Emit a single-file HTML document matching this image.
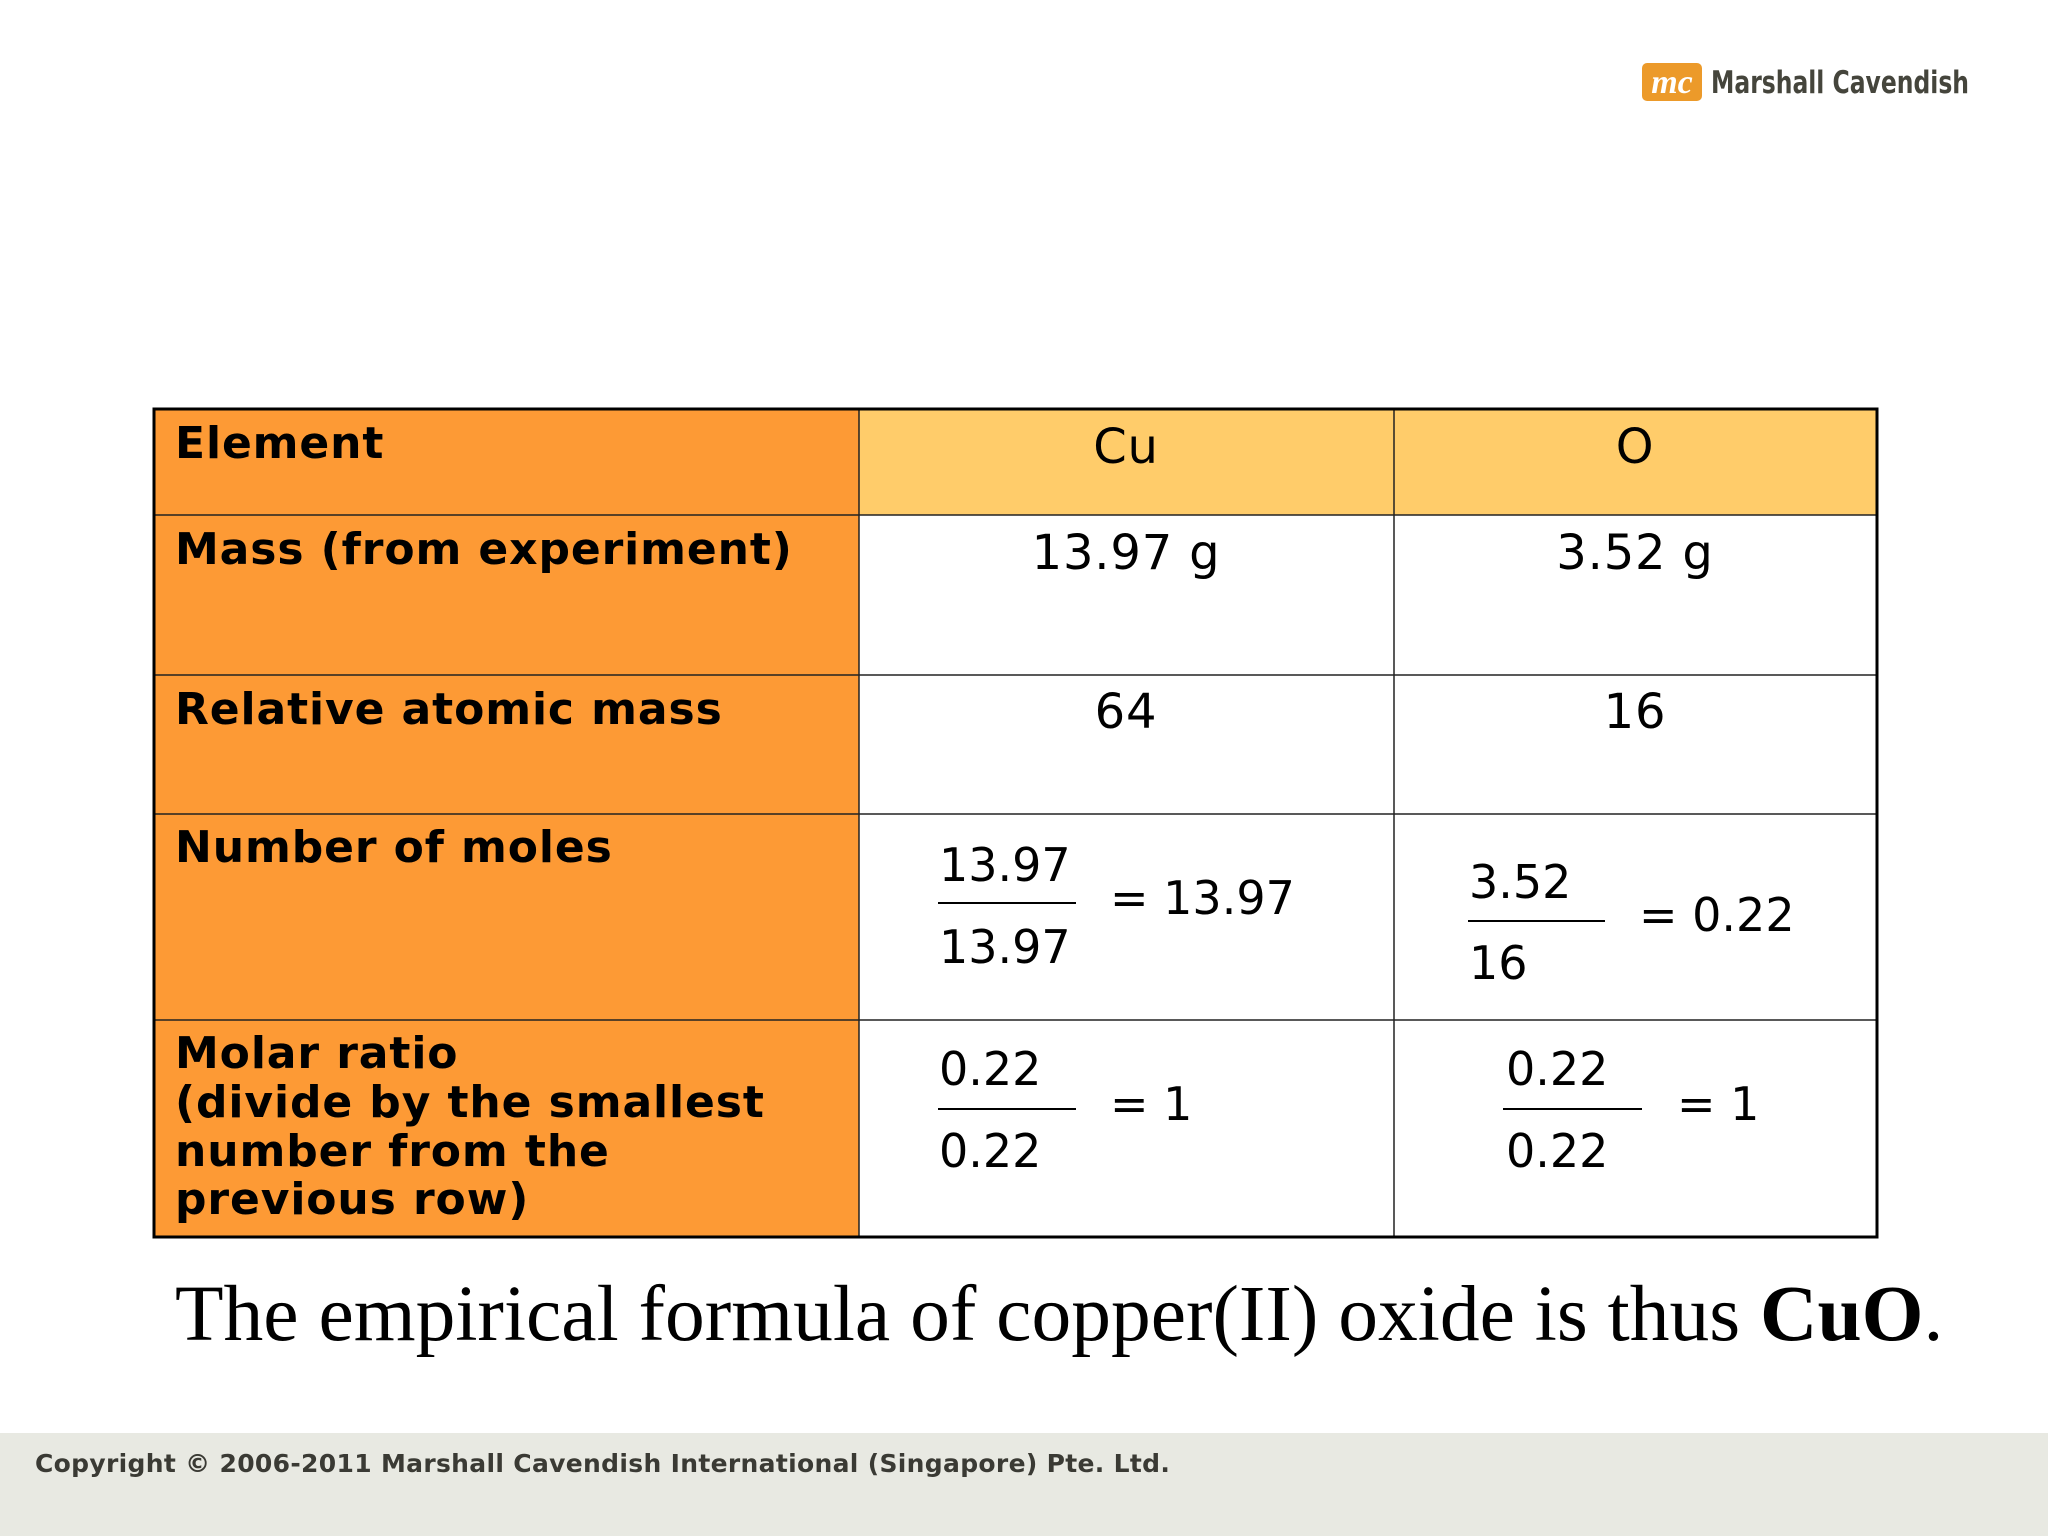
<!DOCTYPE html>
<html><head><meta charset="utf-8"><style>
html,body{margin:0;padding:0;background:#fff;}
svg{display:block;}
.lab{font-family:"DejaVu Sans",Verdana,sans-serif;font-weight:bold;font-size:44px;letter-spacing:0.9px;fill:#000;}
.val{font-family:"DejaVu Sans",Verdana,sans-serif;font-size:48px;letter-spacing:0.8px;fill:#000;}
.fr{font-family:"DejaVu Sans",Verdana,sans-serif;font-size:46px;fill:#000;}
</style></head><body>
<svg width="2048" height="1536" viewBox="0 0 2048 1536">
<g>
<rect x="1642" y="63" width="60" height="38" rx="5" fill="#ec9a2a"/>
<text x="1672" y="93" text-anchor="middle" font-family="Liberation Serif,serif" font-style="italic" font-weight="bold" font-size="34" fill="#fff">mc</text>
<text x="1711" y="93" font-family="'DejaVu Sans Condensed','DejaVu Sans',sans-serif" font-weight="bold" font-size="31" textLength="258" lengthAdjust="spacingAndGlyphs" fill="#45453c">Marshall Cavendish</text>
</g>
<g>
<rect x="154" y="409" width="705" height="828" fill="#fd9a35"/>
<rect x="859" y="409" width="1018" height="106" fill="#ffcc6a"/>
<g stroke="#222" stroke-width="1.5" fill="none">
<line x1="154" y1="515" x2="1877" y2="515"/>
<line x1="154" y1="675" x2="1877" y2="675"/>
<line x1="154" y1="814" x2="1877" y2="814"/>
<line x1="154" y1="1020" x2="1877" y2="1020"/>
<line x1="859" y1="409" x2="859" y2="1237"/>
<line x1="1394" y1="409" x2="1394" y2="1237"/>
</g>
<rect x="154" y="409" width="1723" height="828" fill="none" stroke="#000" stroke-width="3"/>
<text class="lab" x="175" y="458">Element</text>
<text class="lab" x="175" y="564">Mass (from experiment)</text>
<text class="lab" x="175" y="724">Relative atomic mass</text>
<text class="lab" x="175" y="862">Number of moles</text>
<text class="lab"><tspan x="175" y="1068">Molar ratio</tspan><tspan x="175" y="1117">(divide by the smallest</tspan><tspan x="175" y="1166">number from the</tspan><tspan x="175" y="1214">previous row)</tspan></text>
<text class="val" x="1126" y="463" text-anchor="middle">Cu</text>
<text class="val" x="1635" y="463" text-anchor="middle">O</text>
<text class="val" x="1126" y="569" text-anchor="middle">13.97 g</text>
<text class="val" x="1635" y="569" text-anchor="middle">3.52 g</text>
<text class="val" x="1126" y="728" text-anchor="middle">64</text>
<text class="val" x="1635" y="728" text-anchor="middle">16</text>
<g>
<text class="fr" x="939" y="881">13.97</text>
<line x1="938" y1="903" x2="1076" y2="903" stroke="#000" stroke-width="2"/>
<text class="fr" x="939" y="963">13.97</text>
<text class="fr" x="1110" y="914">= 13.97</text>
</g>
<g>
<text class="fr" x="1469" y="898">3.52</text>
<line x1="1468" y1="921" x2="1605" y2="921" stroke="#000" stroke-width="2"/>
<text class="fr" x="1469" y="979">16</text>
<text class="fr" x="1639" y="931">= 0.22</text>
</g>
<g>
<text class="fr" x="939" y="1085">0.22</text>
<line x1="938" y1="1109" x2="1076" y2="1109" stroke="#000" stroke-width="2"/>
<text class="fr" x="939" y="1167">0.22</text>
<text class="fr" x="1110" y="1120">= 1</text>
</g>
<g>
<text class="fr" x="1506" y="1085">0.22</text>
<line x1="1503" y1="1109" x2="1642" y2="1109" stroke="#000" stroke-width="2"/>
<text class="fr" x="1506" y="1167">0.22</text>
<text class="fr" x="1677" y="1120">= 1</text>
</g>
</g>
<text x="175" y="1340" font-family="'Liberation Serif',serif" font-size="79.5" fill="#000">The empirical formula of copper(II) oxide is thus <tspan font-weight="bold">CuO</tspan>.</text>
<rect x="0" y="1433" width="2048" height="103" fill="#e8e9e2"/>
<text x="35" y="1472" font-family="'DejaVu Sans',Verdana,sans-serif" font-weight="bold" font-size="25" letter-spacing="0.32" fill="#3a3a34">Copyright © 2006-2011 Marshall Cavendish International (Singapore) Pte. Ltd.</text>
</svg>
</body></html>
